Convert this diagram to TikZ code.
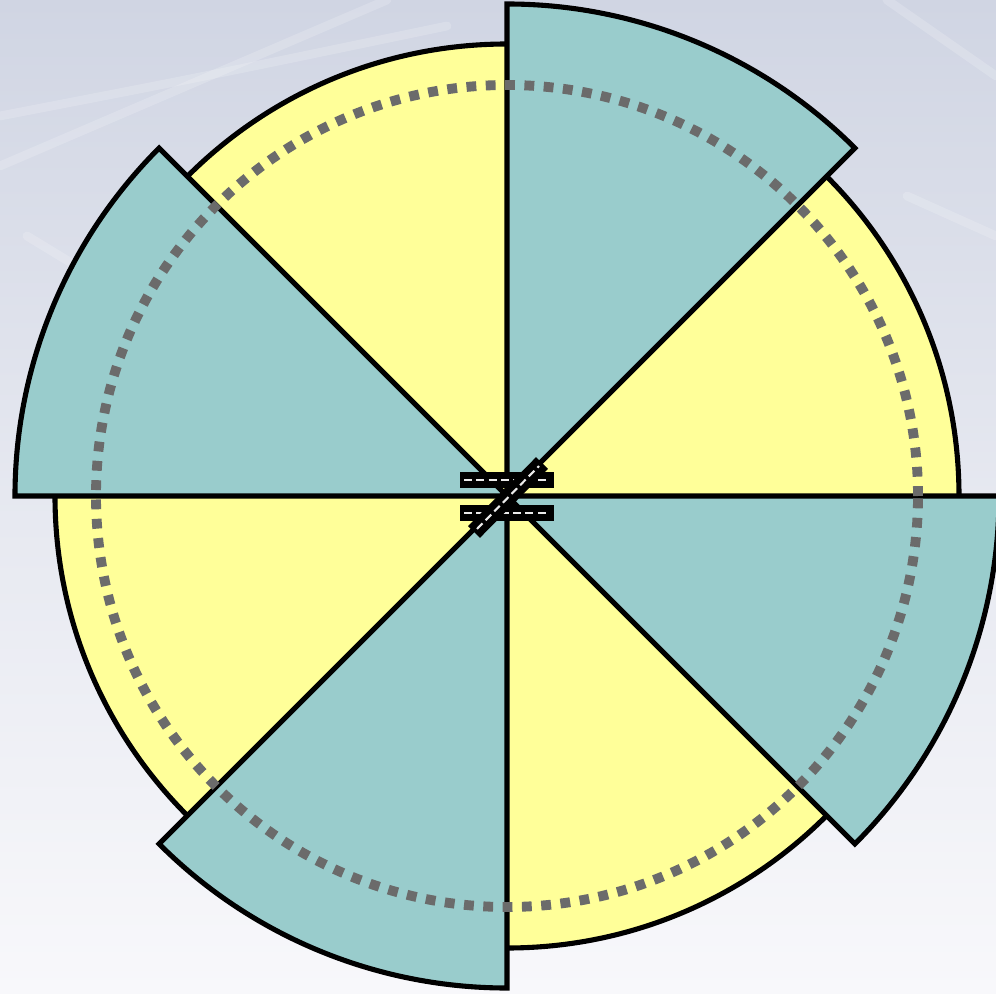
\documentclass[tikz,border=0pt]{standalone}
\usetikzlibrary{calc}
\definecolor{SkyTop}{RGB}{208,213,227}
\definecolor{SkyLow}{RGB}{248,248,251}
\definecolor{Lemon}{RGB}{255,255,153}
\definecolor{Teal}{RGB}{153,204,204}
\definecolor{Ring}{RGB}{107,107,107}

\begin{document}
\begin{tikzpicture}[
    x=0.02cm, y=0.02cm,
    outline/.style={draw=black, line width=2.9pt},
    disc/.style={outline, fill=Lemon},
    wedge/.style={outline, fill=Teal, line join=miter},
    ring/.style={draw=Ring, line width=5.6pt, dash pattern=on 5.6pt off 5.4pt},
    road/.style={draw=black, line width=9.5pt},
    lane/.style={draw=white!92!black, line width=1.2pt, dash pattern=on 4.5pt off 2.5pt},
    streak/.style={draw=white, line width=5pt, opacity=0.18, line cap=round}
  ]
    % background
    \useasboundingbox (-507,-497) rectangle (489,496);
    \shade[top color=SkyTop, bottom color=SkyLow, middle color=SkyTop!45!SkyLow]
      (-507,-497) rectangle (489,496);
    \draw[streak] (-507,330) -- (-120,496);
    \draw[streak] (-507,380) .. controls (-300,420) .. (-60,470);
    \draw[streak] (-480,260) -- (-250,120);
    \draw[streak] (380,496) -- (489,420);
    \draw[streak] (400,300) -- (489,260);

    \coordinate (c) at (0,0);

    % yellow disc
    \path[disc] (c) circle[radius=452];

    % teal sectors
    \foreach \a in {45,135,225,315}
      \path[wedge] (c) -- ($(c)+(\a:492)$)
        arc[start angle=\a, end angle=\a+45, radius=492] -- cycle;

    % dotted ring
    \path[ring] (c) circle[radius=411];

    % crossing roads in the middle
    \draw[road] (-47,16) coordinate (r1a) -- (47,16) coordinate (r1b);
    \draw[road] (-47,-17) coordinate (r2a) -- (47,-17) coordinate (r2b);
    \draw[lane] (r1a) ++(4,0) -- ($(r1b)+(-4,0)$);
    \draw[lane] (r2a) ++(4,0) -- ($(r2b)+(-4,0)$);
    \draw[road] (-33,-36) coordinate (d1) -- (35,33) coordinate (d2);
    \draw[lane] ($(d1)+(3,3)$) -- ($(d2)+(-3,-3)$);
  \end{tikzpicture}
\end{document}
